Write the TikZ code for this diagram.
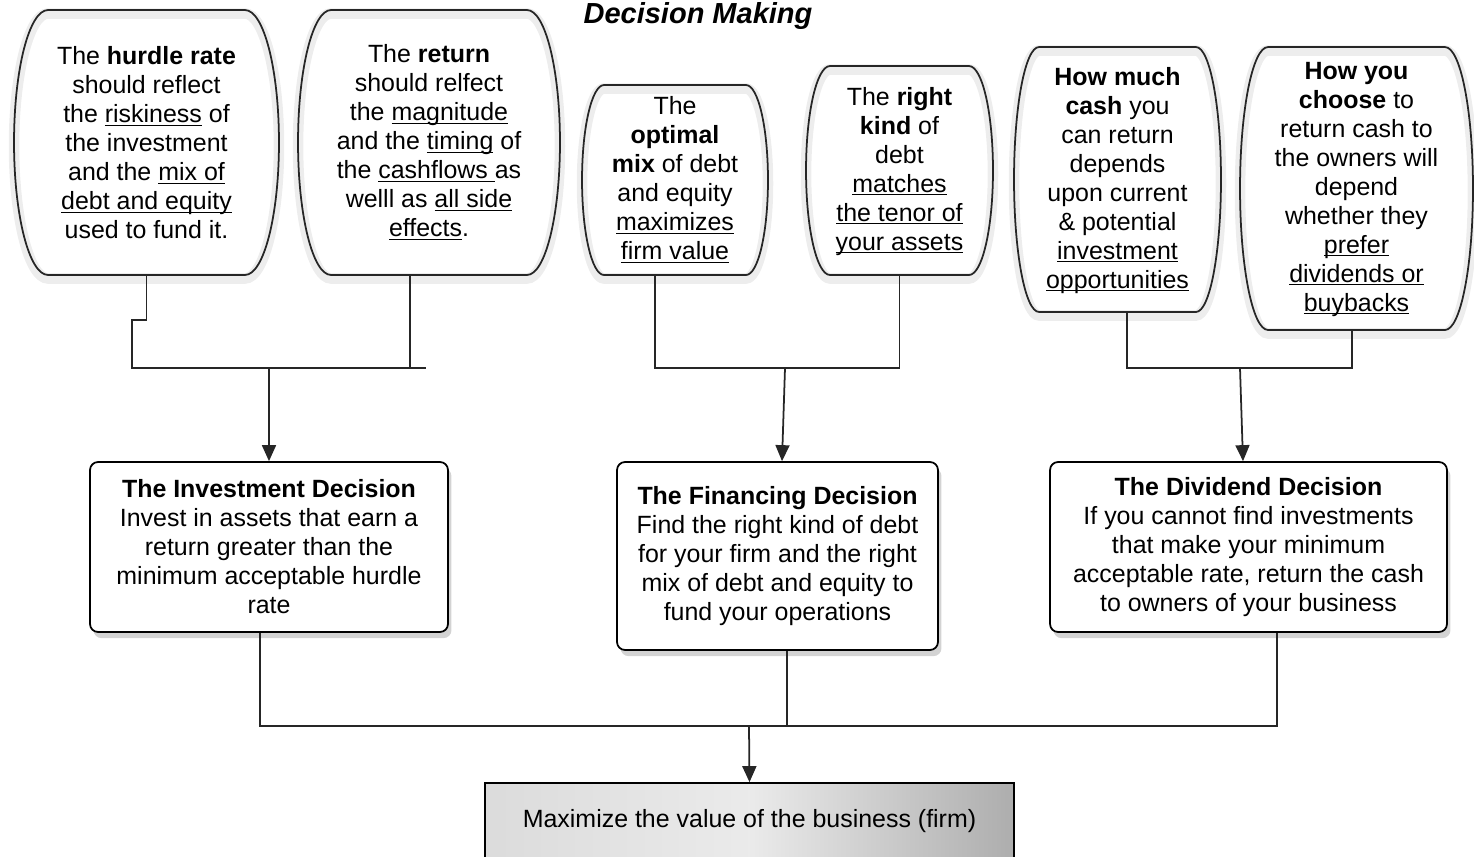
\documentclass[tikz,border=0pt]{standalone}
\usepackage{fontspec}
\setmainfont{Liberation Sans}
\usetikzlibrary{arrows.meta, positioning, calc, shadows, backgrounds}

\newcommand{\diagfont}{\fontsize{14.2pt}{16.5pt}\selectfont}
\newcommand{\uln}[1]{\underline{\smash{#1}}}
% barrel shaped outline round a bubble node
\newcommand{\barrel}[2]{let \p1=(#1.north west), \p2=(#1.south east), \n1={(\y1-\y2)/2} in
  (\x1+#2,\y1) -- (\x2-#2,\y1) arc[start angle=90, end angle=-90, x radius=#2, y radius=\n1]
  -- (\x1+#2,\y2) arc[start angle=270, end angle=90, x radius=#2, y radius=\n1] -- cycle}
\newcommand{\bubbleoutline}[2]{%
  \begin{pgfonlayer}{background}
    \draw[bubble glow] \barrel{#1}{#2};
    \draw[bubble line] \barrel{#1}{#2};
  \end{pgfonlayer}}

\begin{document}
\begin{tikzpicture}[
      x=0.02cm, y=-0.02cm,
      every node/.style={font=\diagfont},
      title/.style={font=\fontsize{16.5pt}{19pt}\selectfont},
      bubble/.style={align=center, inner sep=0pt, outer sep=0pt},
      bubble line/.style={line width=1pt, black!85},
      bubble glow/.style={line width=6pt, black!7, transform canvas={yshift=-2pt}},
      decision/.style={draw, line width=1pt, rounded corners=0.16cm, fill=white, align=center,
        drop shadow={shadow xshift=2pt, shadow yshift=-3.5pt, opacity=0.35}},
      goal/.style={draw, line width=1pt, left color=black!14, right color=black!32, middle color=black!8},
      link/.style={line width=1pt, black!85},
      arrow/.style={link, -{Triangle[length=0.32cm, width=0.28cm]}}
    ]
    \useasboundingbox (0,0) rectangle (1474,856);

    % Nodes
    \node[title] (title) at (698,16) {\textbf{\textit{Decision Making}}};

    \node[bubble, minimum width=5.30cm, minimum height=5.30cm] (hurdle) at (146.5,142.5)
      {The \textbf{hurdle rate}\\ should reflect\\ the \uln{riskiness} of\\ the investment\\
       and the \uln{mix of}\\ \uln{debt and equity}\\ used to fund it.};
    \node[bubble, minimum width=5.24cm, minimum height=5.30cm] (ret) at (429,142.5)
      {The \textbf{return}\\ should relfect\\ the \uln{magnitude}\\ and the \uln{timing} of\\
       the \uln{cashflows }as\\ welll as \uln{all side}\\ \uln{effects}.};
    \node[bubble, minimum width=3.72cm, minimum height=3.80cm] (mix) at (675,180)
      {The\\ \textbf{optimal}\\ \textbf{mix} of debt\\ and equity\\ \uln{maximizes}\\ \uln{firm value}};
    \node[bubble, minimum width=3.74cm, minimum height=4.18cm] (kind) at (899.5,170.5)
      {The \textbf{right}\\ \textbf{kind} of\\ debt\\ \uln{matches}\\ \uln{the tenor of}\\ \uln{your assets}};
    \node[bubble, minimum width=4.14cm, minimum height=5.30cm] (much) at (1117.5,179.5)
      {\textbf{How much}\\ \textbf{cash} you\\ can return\\ depends\\ upon current\\ \& potential\\
       \uln{investment}\\ \uln{opportunities}};
    \node[bubble, minimum width=4.66cm, minimum height=5.66cm] (how) at (1356.5,188.5)
      {\textbf{How you}\\ \textbf{choose} to\\ return cash to\\ the owners will\\ depend\\ whether they\\
       \uln{prefer}\\ \uln{dividends or}\\ \uln{buybacks}};

    \bubbleoutline{hurdle}{0.68cm}
    \bubbleoutline{ret}{0.66cm}
    \bubbleoutline{mix}{0.44cm}
    \bubbleoutline{kind}{0.48cm}
    \bubbleoutline{much}{0.50cm}
    \bubbleoutline{how}{0.56cm}

    \node[decision, minimum width=7.16cm, minimum height=3.40cm] (invest) at (269,547)
      {\textbf{The Investment Decision}\\ Invest in assets that earn a\\ return greater than the\\
       minimum acceptable hurdle\\ rate};
    \node[decision, minimum width=6.42cm, minimum height=3.76cm] (finance) at (777.5,556)
      {\textbf{The Financing Decision}\\ Find the right kind of debt\\ for your firm and the right\\
       mix of debt and equity to\\ fund your operations};
    \node[decision, minimum width=7.94cm, minimum height=3.40cm] (dividend) at (1248.5,547)
      {\textbf{The Dividend Decision}\\ If you cannot find investments\\ that make your minimum\\
       acceptable rate, return the cash\\ to owners of your business};
    \node[goal, minimum width=10.58cm, minimum height=1.54cm] (value) at (749.5,821.5)
      {Maximize the value of the business (firm)};

    % Junctions
    \coordinate (bus1) at (132,368);
    \coordinate (bus1end) at (426,368);
    \coordinate (bus2) at (785,368);
    \coordinate (bus3) at (1240,368);
    \coordinate (bus4) at (749,726);

    % Arrows
    \draw[link] (hurdle.south) -- ++(0,45) -| (bus1) -- (bus1end);
    \draw[link] ([xshift=-0.38cm]ret.south) -- ([xshift=-0.38cm]ret.south |- bus1end);
    \draw[arrow] (invest.north |- bus1) -- (invest.north);

    \draw[link] ([xshift=-0.4cm]mix.south) |- (bus2) -| (kind.south);
    \draw[arrow] (bus2) -- ([xshift=0.09cm]finance.north);

    \draw[link] ([xshift=0.19cm]much.south) |- (bus3) -| ([xshift=-0.09cm]how.south);
    \draw[arrow] (bus3) -- ([xshift=-0.11cm]dividend.north);

    \draw[link] ([xshift=-0.18cm]invest.south) |- (bus4) -| ([xshift=0.57cm]dividend.south);
    \draw[link] ([xshift=0.19cm]finance.south) -- ([xshift=0.19cm]finance.south |- bus4);
    \draw[arrow] (bus4) -- (value.north);
\end{tikzpicture}
\end{document}
